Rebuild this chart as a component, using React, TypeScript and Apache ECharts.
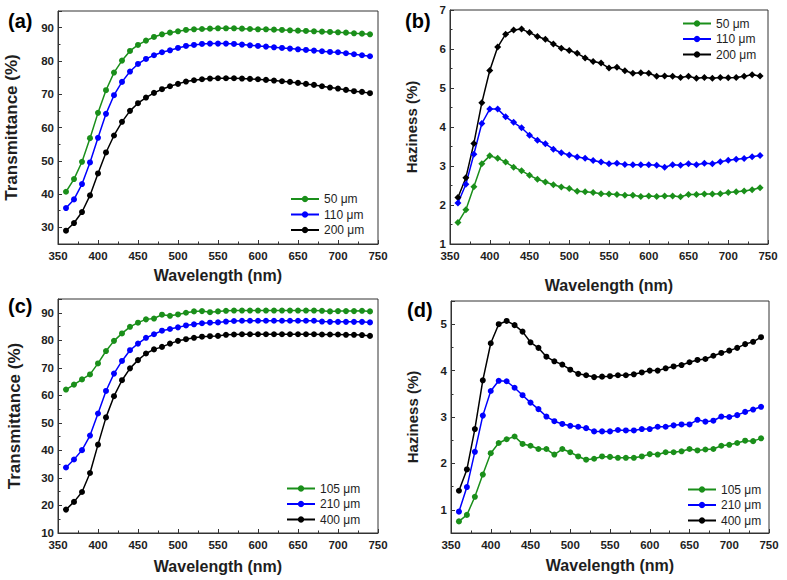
import { useEffect, useRef } from "react";
import * as echarts from "echarts";

const wavelengths = [360, 370, 380, 390, 400, 410, 420, 430, 440, 450, 460, 470, 480, 490, 500, 510, 520, 530, 540, 550, 560, 570, 580, 590, 600, 610, 620, 630, 640, 650, 660, 670, 680, 690, 700, 710, 720, 730, 740];

// (a) Transmittance
const aT50 = [40.7, 44.5, 49.7, 56.8, 64.4, 71.2, 76.5, 80.1, 83.0, 84.8, 86.1, 87.2, 88.0, 88.5, 88.9, 89.3, 89.5, 89.6, 89.7, 89.8, 89.8, 89.8, 89.7, 89.6, 89.5, 89.5, 89.4, 89.3, 89.2, 89.1, 89.0, 88.9, 88.8, 88.7, 88.6, 88.5, 88.3, 88.2, 88.0];
const aT110 = [35.8, 38.4, 43.0, 49.5, 56.9, 64.1, 69.7, 73.7, 76.8, 79.1, 80.6, 81.7, 82.6, 83.2, 83.9, 84.5, 84.8, 85.1, 85.2, 85.2, 85.2, 85.1, 84.9, 84.7, 84.5, 84.3, 84.1, 83.9, 83.7, 83.5, 83.3, 83.1, 82.9, 82.7, 82.6, 82.3, 82.0, 81.7, 81.4];
const aT200 = [29.0, 31.3, 34.6, 39.6, 46.2, 52.5, 57.6, 61.7, 65.0, 67.3, 69.0, 70.4, 71.5, 72.4, 73.1, 73.8, 74.2, 74.5, 74.7, 74.8, 74.8, 74.8, 74.7, 74.6, 74.5, 74.3, 74.1, 73.9, 73.7, 73.4, 73.1, 72.8, 72.4, 72.0, 71.7, 71.3, 70.9, 70.7, 70.3];

// (b) Haziness
const bH50 = [1.55, 1.88, 2.47, 3.06, 3.26, 3.20, 3.10, 2.97, 2.88, 2.76, 2.66, 2.59, 2.52, 2.46, 2.42, 2.35, 2.34, 2.32, 2.29, 2.28, 2.27, 2.25, 2.25, 2.22, 2.23, 2.22, 2.23, 2.23, 2.21, 2.27, 2.27, 2.28, 2.28, 2.29, 2.32, 2.34, 2.36, 2.39, 2.44];
const bH110 = [2.05, 2.53, 3.30, 4.09, 4.46, 4.46, 4.26, 4.12, 3.98, 3.79, 3.66, 3.57, 3.43, 3.34, 3.28, 3.23, 3.20, 3.14, 3.10, 3.06, 3.07, 3.04, 3.03, 3.03, 3.03, 3.02, 2.97, 3.03, 3.02, 3.06, 3.03, 3.07, 3.06, 3.11, 3.15, 3.17, 3.19, 3.24, 3.27];
const bH200 = [2.19, 2.70, 3.58, 4.62, 5.45, 6.05, 6.38, 6.49, 6.51, 6.42, 6.32, 6.25, 6.13, 6.02, 5.96, 5.89, 5.77, 5.68, 5.64, 5.51, 5.53, 5.44, 5.38, 5.39, 5.38, 5.30, 5.31, 5.30, 5.27, 5.30, 5.25, 5.27, 5.25, 5.27, 5.26, 5.27, 5.30, 5.34, 5.31];

// (c) Transmittance
const cT105 = [62.1, 63.9, 65.8, 67.6, 71.6, 76.1, 79.8, 82.5, 84.9, 86.4, 87.6, 87.9, 89.3, 88.9, 89.4, 90.0, 90.5, 90.6, 90.2, 90.5, 90.7, 90.8, 90.8, 90.8, 90.8, 90.8, 90.8, 90.8, 90.8, 90.8, 90.8, 90.8, 90.7, 90.5, 90.6, 90.6, 90.6, 90.7, 90.5];
const cT210 = [33.8, 36.7, 40.1, 45.4, 53.4, 61.6, 67.9, 72.5, 76.4, 78.8, 80.9, 82.2, 83.5, 84.1, 84.7, 85.4, 85.8, 86.2, 86.4, 86.5, 86.8, 87.0, 87.1, 87.1, 87.1, 87.1, 87.1, 87.1, 87.1, 87.1, 87.1, 87.1, 86.8, 86.7, 86.7, 86.7, 86.7, 86.7, 86.5];
const cT400 = [18.5, 21.3, 24.9, 31.8, 42.1, 52.0, 59.7, 65.5, 69.8, 72.8, 75.2, 76.7, 77.6, 78.8, 79.8, 80.4, 80.9, 81.3, 81.5, 81.6, 82.0, 82.1, 82.2, 82.2, 82.2, 82.2, 82.2, 82.2, 82.2, 82.2, 82.2, 82.2, 82.1, 82.1, 82.1, 82.0, 82.0, 81.9, 81.6];

// (d) Haziness
const dH105 = [0.75, 0.89, 1.28, 1.76, 2.22, 2.44, 2.52, 2.58, 2.42, 2.38, 2.31, 2.31, 2.19, 2.31, 2.24, 2.15, 2.08, 2.10, 2.15, 2.14, 2.12, 2.12, 2.12, 2.15, 2.20, 2.19, 2.24, 2.24, 2.26, 2.31, 2.28, 2.30, 2.31, 2.38, 2.40, 2.44, 2.49, 2.48, 2.54];
const dH210 = [0.96, 1.49, 2.25, 3.03, 3.56, 3.78, 3.77, 3.63, 3.47, 3.31, 3.17, 3.01, 2.91, 2.85, 2.81, 2.79, 2.76, 2.69, 2.69, 2.69, 2.72, 2.71, 2.71, 2.74, 2.74, 2.79, 2.79, 2.82, 2.84, 2.84, 2.94, 2.90, 2.92, 3.01, 3.00, 3.04, 3.11, 3.16, 3.22];
const dH400 = [1.41, 1.87, 2.74, 3.79, 4.59, 5.00, 5.07, 4.98, 4.84, 4.61, 4.49, 4.30, 4.20, 4.13, 4.02, 3.93, 3.90, 3.86, 3.87, 3.88, 3.90, 3.90, 3.92, 3.96, 4.00, 4.00, 4.05, 4.09, 4.12, 4.18, 4.23, 4.25, 4.32, 4.38, 4.43, 4.49, 4.57, 4.62, 4.72];

const legendTop = ["50 μm", "110 μm", "200 μm"];
const legendBottom = ["105 μm", "210 μm", "400 μm"];
const panelLabels = ["(a)", "(b)", "(c)", "(d)"];
const xTitle = "Wavelength (nm)";
const yTitles = ["Transmittance (%)", "Haziness (%)", "Transmittance (%)", "Haziness (%)"];

const FONT = "'Liberation Sans', Arial, Helvetica, sans-serif";
const GREEN = "#1a8f1a";
const BLUE = "#0000ff";
const BLACK = "#000000";
const AXIS = "#333333";
const TEXT = "#1e1e1e";

function toPoints(vals: number[]) {
  return wavelengths.map((w, i) => [w, vals[i]]);
}

function makeX(gridIndex: number, nameGap: number) {
  return {
    type: "value",
    gridIndex,
    min: 350,
    max: 750,
    interval: 50,
    name: xTitle,
    nameLocation: "middle",
    nameGap,
    nameTextStyle: { fontFamily: FONT, fontWeight: "bold", fontSize: 16, color: TEXT },
    axisLine: { show: true, onZero: false, lineStyle: { color: AXIS, width: 1 } },
    axisTick: { show: true, inside: true, length: 4, lineStyle: { color: AXIS } },
    minorTick: { show: true, splitNumber: 2, length: 2.5, lineStyle: { color: AXIS } },
    axisLabel: { fontFamily: FONT, fontWeight: "bold", fontSize: 11.5, color: TEXT, margin: 6 },
    splitLine: { show: false },
  };
}

function makeY(gridIndex: number, name: string, nameGap: number, fontSize: number, extra: any) {
  return {
    type: "value",
    gridIndex,
    name,
    nameLocation: "middle",
    nameGap,
    nameTextStyle: { fontFamily: FONT, fontWeight: "bold", fontSize, color: TEXT },
    axisLine: { show: true, onZero: false, lineStyle: { color: AXIS, width: 1 } },
    axisTick: { show: true, inside: true, length: 4, lineStyle: { color: AXIS } },
    minorTick: { show: true, splitNumber: 2, length: 2.5, lineStyle: { color: AXIS } },
    axisLabel: {
      fontFamily: FONT,
      fontWeight: "bold",
      fontSize: 11.5,
      color: TEXT,
      margin: 4,
      showMinLabel: extra.showMin,
      showMaxLabel: extra.showMax,
    },
    splitLine: { show: false },
    min: extra.min,
    max: extra.max,
    ...(extra.interval ? { interval: extra.interval } : {}),
    ...(extra.splitNumber ? { splitNumber: extra.splitNumber } : {}),
  };
}

function makeSeries(name: string, vals: number[], color: string, idx: number, symbol: string, size: number) {
  return {
    type: "line",
    name,
    xAxisIndex: idx,
    yAxisIndex: idx,
    data: toPoints(vals),
    symbol,
    symbolSize: size,
    showSymbol: true,
    lineStyle: { color, width: 1.5 },
    itemStyle: { color, borderWidth: 0 },
    emphasis: { disabled: true },
  };
}

function makeLegend(names: string[], left: number, top: number) {
  return {
    orient: "vertical",
    left,
    top,
    padding: 0,
    itemWidth: 28,
    itemHeight: 8,
    itemGap: 2.5,
    selectedMode: false,
    data: names,
    textStyle: { fontFamily: FONT, fontSize: 12, color: TEXT, lineHeight: 13 },
  };
}

export default function App() {
  const ref = useRef<HTMLDivElement>(null);
  useEffect(() => {
    if (!ref.current) return;
    const chart = echarts.init(ref.current, null, { renderer: "svg" });
    const gridStyle = { show: true, borderColor: AXIS, borderWidth: 1, backgroundColor: "transparent", containLabel: false };
    const option: any = {
      animation: false,
      backgroundColor: "#ffffff",
      grid: [
        { ...gridStyle, left: 58, top: 11, width: 320, height: 233 },
        { ...gridStyle, left: 450, top: 10, width: 318, height: 234 },
        { ...gridStyle, left: 58, top: 299, width: 320, height: 234 },
        { ...gridStyle, left: 451, top: 301, width: 318, height: 232 },
      ],
      xAxis: [makeX(0, 23), makeX(1, 33), makeX(2, 25), makeX(3, 24)],
      yAxis: [
        makeY(0, yTitles[0], 38, 17, { min: 25, max: 95, splitNumber: 7, showMin: false, showMax: false }),
        makeY(1, yTitles[1], 31, 15, { min: 1, max: 7, interval: 1, showMin: true, showMax: true }),
        makeY(2, yTitles[2], 35, 17, { min: 10, max: 95, interval: 10, showMin: true, showMax: false }),
        makeY(3, yTitles[3], 31, 15, { min: 0.5, max: 5.5, splitNumber: 5, showMin: false, showMax: false }),
      ],
      legend: [
        makeLegend(legendTop, 290, 192.5),
        makeLegend(legendTop, 682, 17),
        makeLegend(legendBottom, 286, 482),
        makeLegend(legendBottom, 687, 483),
      ],
      graphic: [
        { type: "text", left: 8, top: 11, style: { text: panelLabels[0], font: `bold 20px ${FONT}`, fill: "#000" } },
        { type: "text", left: 405, top: 11, style: { text: panelLabels[1], font: `bold 20px ${FONT}`, fill: "#000" } },
        { type: "text", left: 8, top: 296, style: { text: panelLabels[2], font: `bold 20px ${FONT}`, fill: "#000" } },
        { type: "text", left: 407, top: 300, style: { text: panelLabels[3], font: `bold 20px ${FONT}`, fill: "#000" } },
      ],
      series: [
        makeSeries(legendTop[2], aT200, BLACK, 0, "circle", 6),
        makeSeries(legendTop[1], aT110, BLUE, 0, "circle", 6),
        makeSeries(legendTop[0], aT50, GREEN, 0, "circle", 6),
        makeSeries(legendTop[2], bH200, BLACK, 1, "diamond", 7),
        makeSeries(legendTop[1], bH110, BLUE, 1, "diamond", 7),
        makeSeries(legendTop[0], bH50, GREEN, 1, "diamond", 7),
        makeSeries(legendBottom[2], cT400, BLACK, 2, "circle", 6),
        makeSeries(legendBottom[1], cT210, BLUE, 2, "circle", 6),
        makeSeries(legendBottom[0], cT105, GREEN, 2, "circle", 6),
        makeSeries(legendBottom[2], dH400, BLACK, 3, "circle", 6),
        makeSeries(legendBottom[1], dH210, BLUE, 3, "circle", 6),
        makeSeries(legendBottom[0], dH105, GREEN, 3, "circle", 6),
      ],
    };
    chart.setOption(option);
    return () => chart.dispose();
  }, []);
  return (
    <div
      ref={ref}
      style={{ position: "fixed", left: 0, top: 0, width: 787, height: 580, background: "#ffffff" }}
    />
  );
}
